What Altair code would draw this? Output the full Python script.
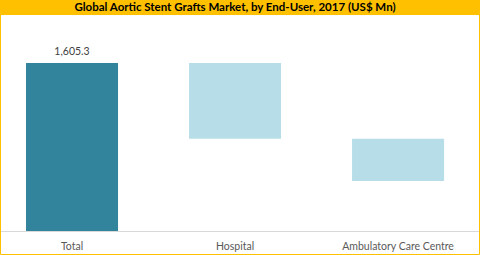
import altair as alt
import pandas as pd

categories = ["Total", "Hospital", "Ambulatory Care Centre"]
bar_top = [1605.3, 1605.3, 882.0]
bar_bottom = [0.0, 882.0, 478.0]
bar_kind = ["total", "segment", "segment"]
label_text = ["1,605.3", "", ""]
title_text = "Global Aortic Stent Grafts Market, by End-User, 2017 (US$ Mn)"

df = pd.DataFrame({
    "cat": categories,
    "top": bar_top,
    "bottom": bar_bottom,
    "kind": bar_kind,
    "label": label_text,
})

PLOT_W, PLOT_H = 480, 215
ymax = 1605.3 * 215 / 168

xenc = alt.X(
    "cat:N", sort=categories,
    scale=alt.Scale(paddingInner=0.4356, paddingOuter=0.19, align=0.42),
    axis=alt.Axis(title=None, labelAngle=0, domain=True, domainColor="#D9D9D9",
                  domainWidth=1, ticks=False, grid=False, labelColor="#595959",
                  labelFont="Lato", labelFontSize=10.5, labelPadding=10),
)
yscale = alt.Scale(domain=[0, ymax], nice=False, zero=False)

bars = alt.Chart(df).mark_bar().encode(
    x=xenc,
    y=alt.Y("top:Q", scale=yscale, axis=None),
    y2="bottom:Q",
    color=alt.Color("kind:N", scale=alt.Scale(domain=["total", "segment"],
                                              range=["#31849B", "#B7DEE8"]), legend=None),
)

labels = alt.Chart(df).mark_text(baseline="bottom", dy=-6, font="Lato", fontSize=10.5,
                                 color="#404040").encode(
    x=xenc,
    y=alt.Y("top:Q", scale=yscale, axis=None),
    text="label:N",
)

tdf = pd.DataFrame({"t": [title_text]})
title_bar = alt.Chart(tdf).mark_rect(color="#FFC000").encode(
    x=alt.value(0), x2=alt.value(480), y=alt.value(-16), y2=alt.value(-1)
)
title = alt.Chart(tdf).mark_text(font="Lato", fontWeight="bold", fontSize=11.5,
                                 color="#000000", baseline="middle", align="center").encode(
    x=alt.value(235), y=alt.value(-8), text="t:N"
)
border = alt.Chart(tdf).mark_rect(filled=False, stroke="#FFC000", strokeWidth=1).encode(
    x=alt.value(0.5), x2=alt.value(479.5), y=alt.value(-15.5), y2=alt.value(238.5)
)

chart = alt.layer(title_bar, bars, labels, border, title).properties(
    width=PLOT_W, height=PLOT_H,
    autosize=alt.AutoSizeParams(type="none"),
    padding={"left": 0, "top": 16, "right": 0, "bottom": 24},
    background="#FFFFFF",
).configure_view(stroke=None)

chart.save("out.html", embed_options={"renderer": "svg", "actions": False})
